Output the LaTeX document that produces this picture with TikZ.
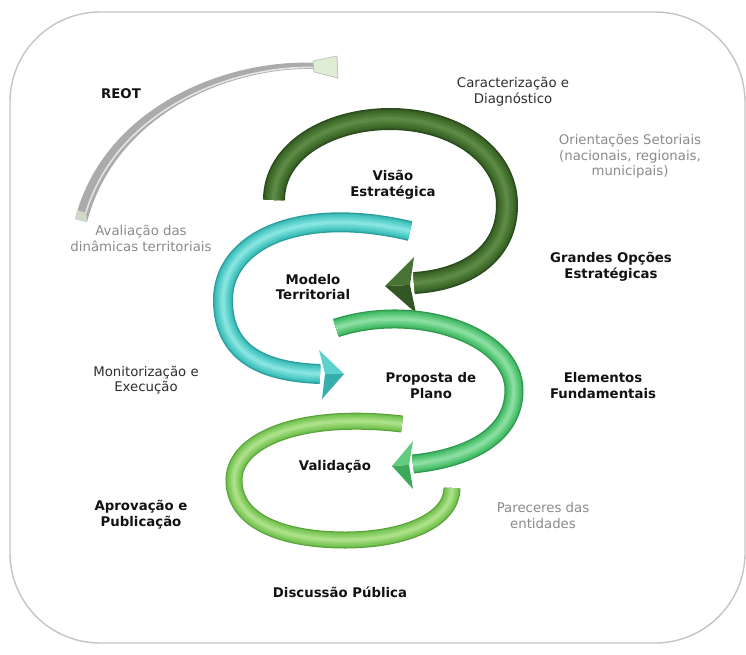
\documentclass[tikz,border=0pt]{standalone}
\usepackage{fontspec}
\setmainfont{DejaVu Sans}
\definecolor{frameGray}{HTML}{C4C4C4}
\definecolor{txtBlack}{HTML}{121212}
\definecolor{txtDark}{HTML}{2E2E2E}
\definecolor{txtGray}{HTML}{8A8A8A}
\definecolor{dgDark}{HTML}{2A4A1C}
\definecolor{dgBase}{HTML}{3E6A2A}
\definecolor{dgLight}{HTML}{5C8A44}
\definecolor{tlDark}{HTML}{2A9E9C}
\definecolor{tlBase}{HTML}{47C6C2}
\definecolor{tlLight}{HTML}{86E4E0}
\definecolor{mgDark}{HTML}{2E984C}
\definecolor{mgBase}{HTML}{4CC26E}
\definecolor{mgLight}{HTML}{8ADDA0}
\definecolor{lgDark}{HTML}{58A238}
\definecolor{lgBase}{HTML}{7CC858}
\definecolor{lgLight}{HTML}{ACE088}
\definecolor{reGray}{HTML}{ABABAB}
\definecolor{reSilver}{HTML}{E4E4E4}
\definecolor{reMint}{HTML}{DDEDD6}
% a shaded tube: #1 width, #2 edge colour, #3 body colour, #4 highlight colour, #5 path
\newcommand\shadedtube[5]{%
  \foreach \f/\c in {1/#2, 0.88/#2!45!#3, 0.76/#3, 0.55/#3!65!#4, 0.36/#3!35!#4, 0.18/#4}
    \draw[line width={\f*#1pt}, draw=\c] #5;}
\begin{document}
\begin{tikzpicture}[x=1pt,y=-1pt,
  lbl/.style={font=\fontsize{13.3}{15.5}\selectfont, align=center, inner sep=0pt, text=txtDark},
  boldlbl/.style={lbl, font=\fontsize{13.3}{15.5}\selectfont\bfseries, text=txtBlack},
  graylbl/.style={lbl, text=txtGray}]
\useasboundingbox (0,0) rectangle (746,654);

% outer frame
\draw[frameGray, line width=1.4pt, rounded corners=90pt] (10,12) rectangle (745,643);

% REOT loop arrow (silver, tapering)
\fill[reGray] (75,219) .. controls (104,106) and (228,58) .. (317,63)
  -- (317,69) .. controls (232,66) and (116,112) .. (87,222) -- cycle;
\draw[reSilver, line width=1.6pt] (84,219) .. controls (113,111) and (230,65) .. (316,67.5);
\fill[reMint!70!reGray] (75,219) -- (87,222) .. controls (86.5,218) .. (86,213) -- (77,210) -- cycle;
\coordinate (reA) at (313,61);
\coordinate (reB) at (337,56);
\coordinate (reC) at (338,78);
\coordinate (reD) at (314,72);
\filldraw[fill=reMint, draw=reGray!80, line width=0.7pt] (reA) -- (reB) -- (reC) -- (reD) -- cycle;

% dark green arrow
\shadedtube{22}{dgDark}{dgBase}{dgLight}{(274,200) .. controls (274,150) and (330,119) .. (390,119)
    .. controls (455,119) and (507,155) .. (507,205) .. controls (507,255) and (465,280) .. (414,283)}
\coordinate (dgTip) at (385,286);
\coordinate (dgB1) at (414,257);
\coordinate (dgB2) at (416,313);
\coordinate (dgM) at (410,285);
\fill[dgBase!70!dgLight] (dgTip) -- (dgB1) -- (dgM) -- cycle;
\fill[dgDark!60!dgBase] (dgTip) -- (dgM) -- (dgB2) -- cycle;

% teal arrow
\shadedtube{20}{tlDark}{tlBase}{tlLight}{(410,231) .. controls (300,205) and (223,240) .. (223,300)
    .. controls (223,355) and (265,372) .. (320,374)}
\coordinate (tlTip) at (344,374);
\coordinate (tlB1) at (319,350);
\coordinate (tlB2) at (322,399);
\coordinate (tlM) at (325,374);
\fill[tlBase!65!tlLight] (tlTip) -- (tlB1) -- (tlM) -- cycle;
\fill[tlDark!60!tlBase] (tlTip) -- (tlM) -- (tlB2) -- cycle;

% medium green arrow
\shadedtube{19}{mgDark}{mgBase}{mgLight}{(336,328) .. controls (415,302) and (514,335) .. (514,390)
    .. controls (514,435) and (470,458) .. (413,464)}
\coordinate (mgTip) at (392,466);
\coordinate (mgB1) at (413,441);
\coordinate (mgB2) at (413,489);
\coordinate (mgM) at (409,465);
\fill[mgBase!65!mgLight] (mgTip) -- (mgB1) -- (mgM) -- cycle;
\fill[mgDark!60!mgBase] (mgTip) -- (mgM) -- (mgB2) -- cycle;

% light green loop
\shadedtube{17}{lgDark}{lgBase}{lgLight}{(402,424) .. controls (300,412) and (234,440) .. (234,480)
    .. controls (234,525) and (290,540) .. (345,540) .. controls (405,540) and (452,520) .. (452,488)}

% labels
\node[boldlbl] (reot) at (121,94) {REOT};
\node[lbl] (carac) at (513,91.5) {Caracterização e\\Diagnóstico};
\node[graylbl] (orient) at (630,156.5) {Orientações Setoriais\\(nacionais, regionais,\\municipais)};
\node[boldlbl] (visao) at (393,185) {Visão\\Estratégica};
\node[graylbl] (aval) at (141,238.5) {Avaliação das\\dinâmicas territoriais};
\node[boldlbl] (grandes) at (611,267) {Grandes Opções\\Estratégicas};
\node[boldlbl] (modelo) at (313,287) {Modelo\\Territorial};
\node[lbl] (monit) at (146,380) {Monitorização e\\Execução};
\node[boldlbl] (proposta) at (431,385.5) {Proposta de\\Plano};
\node[boldlbl] (elem) at (603,385.5) {Elementos\\Fundamentais};
\node[boldlbl] (valid) at (335,467) {Validação};
\node[boldlbl] (aprov) at (141,514.5) {Aprovação e\\Publicação};
\node[graylbl] (parec) at (543,515.5) {Pareceres das\\entidades};
\node[boldlbl] (discus) at (340,592) {Discussão Pública};
\end{tikzpicture}
\end{document}
